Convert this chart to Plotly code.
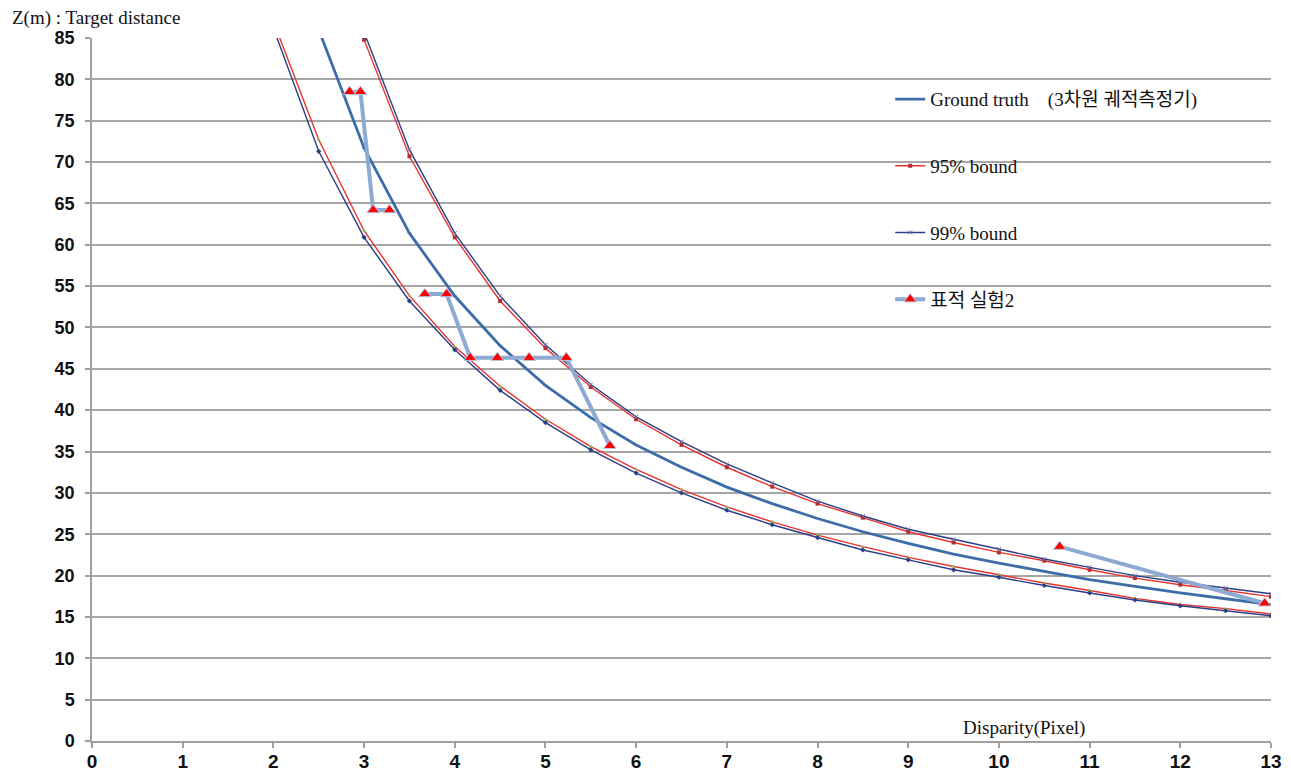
import plotly.graph_objects as go

# ---------------- data ----------------
d_gt = [2.5, 3, 3.5, 4, 4.5, 5, 5.5, 6, 6.5, 7, 7.5, 8, 8.5, 9, 9.5, 10, 10.5, 11, 11.5, 12, 12.5, 13]
z_gt = [86.0, 71.7, 61.4, 53.8, 47.8, 43.0, 39.1, 35.8, 33.1, 30.7, 28.7, 26.9, 25.3, 23.9, 22.6, 21.5,
        20.5, 19.5, 18.7, 17.9, 17.2, 16.5]

d_up = [2.5, 3, 3.5, 4, 4.5, 5, 5.5, 6, 6.5, 7, 7.5, 8, 8.5, 9, 9.5, 10, 10.5, 11, 11.5, 12, 12.5, 13]
z_up95 = [104.0, 84.8, 70.7, 60.9, 53.2, 47.5, 42.8, 38.9, 35.8, 33.1, 30.75, 28.7, 27.0, 25.3, 24.0, 22.8,
          21.8, 20.7, 19.7, 18.9, 18.2, 17.45]
z_up99 = [106.0, 85.7, 71.5, 61.4, 53.8, 47.9, 43.1, 39.2, 36.2, 33.5, 31.2, 29.0, 27.2, 25.6, 24.4, 23.2,
          22.0, 21.0, 20.0, 19.2, 18.5, 17.8]

d_lo = [2, 2.5, 3, 3.5, 4, 4.5, 5, 5.5, 6, 6.5, 7, 7.5, 8, 8.5, 9, 9.5, 10, 10.5, 11, 11.5, 12, 12.5, 13]
z_lo95 = [87.0, 72.7, 61.7, 53.85, 47.7, 42.9, 38.9, 35.6, 32.85, 30.4, 28.3, 26.5, 24.9, 23.5, 22.2, 21.1,
          20.1, 19.1, 18.2, 17.25, 16.5, 16.0, 15.35]
z_lo99 = [86.2, 71.3, 60.9, 53.2, 47.3, 42.4, 38.5, 35.2, 32.4, 30.0, 27.9, 26.15, 24.6, 23.1, 21.9, 20.7,
          19.8, 18.8, 17.9, 17.05, 16.35, 15.75, 15.15]

d_exp = [2.84, 2.96, 3.10, 3.28, None, 3.67, 3.91, 4.17, 4.47, 4.82, 5.23, 5.71, None, 10.67, 12.93]
z_exp = [78.5, 78.5, 64.2, 64.2, None, 54.05, 54.05, 46.35, 46.35, 46.35, 46.35, 35.7, None, 23.5, 16.65]

x_ticks = list(range(0, 14))
y_ticks = list(range(0, 86, 5))

names = ["Ground truth\u00a0\u00a0\u00a0\u00a0(3차원 궤적측정기)", "95% bound", "99% bound", "표적 실험2"]

# ---------------- styles ----------------
C_GT = "#3D6DA8"
C_95 = "#E8322D"
C_99 = "#283F86"
C_EXP = "#8EA9D2"

fig = go.Figure()

fig.add_trace(go.Scatter(x=d_gt, y=z_gt, mode="lines+markers", name=names[0], legendgroup="g1",
                         line=dict(color=C_GT, width=2.8),
                         marker=dict(size=3, color=C_GT, symbol="line-ew-open", line=dict(width=1, color=C_GT))))

fig.add_trace(go.Scatter(x=d_up, y=z_up95, mode="lines+markers", name=names[1], legendgroup="g2",
                         line=dict(color=C_95, width=1.4),
                         marker=dict(size=4, color="#B03030", symbol="square")))
fig.add_trace(go.Scatter(x=d_lo, y=z_lo95, mode="lines+markers", name=names[1], legendgroup="g2",
                         showlegend=False,
                         line=dict(color=C_95, width=1.4),
                         marker=dict(size=4, color="#9BBB59", symbol="triangle-up")))

fig.add_trace(go.Scatter(x=d_up, y=z_up99, mode="lines+markers", name=names[2], legendgroup="g3",
                         line=dict(color=C_99, width=1.4),
                         marker=dict(size=4, color="#8064A2", symbol="x-thin-open", line=dict(width=1, color="#8064A2"))))
fig.add_trace(go.Scatter(x=d_lo, y=z_lo99, mode="lines+markers", name=names[2], legendgroup="g3",
                         showlegend=False,
                         line=dict(color=C_99, width=1.4),
                         marker=dict(size=4, color=C_99, symbol="diamond")))

fig.add_trace(go.Scatter(x=d_exp, y=z_exp, mode="lines+markers", name=names[3], legendgroup="g4",
                         connectgaps=False,
                         line=dict(color=C_EXP, width=4),
                         marker=dict(size=11, color="#FF0000", symbol="triangle-up",
                                     line=dict(width=1, color="#B8C8E4"))))

# page body has an 8px margin, so the figure is sized to fit inside the window
W, H = 1283, 768
ML, MR, MT, MB = 84, 20, 30, 35
PW, PH = W - ML - MR, H - MT - MB

fig.update_layout(
    width=W, height=H,
    paper_bgcolor="white", plot_bgcolor="white",
    margin=dict(l=ML, r=MR, t=MT, b=MB, autoexpand=False),
    showlegend=True,
    legend=dict(x=0.677, y=0.940, xanchor="left", yanchor="top",
                font=dict(family="Liberation Serif, Noto Sans CJK KR, serif", size=19, color="#111111"),
                bgcolor="rgba(0,0,0,0)", tracegroupgap=39, itemwidth=30),
    xaxis=dict(range=[0, 13], tickvals=x_ticks, ticktext=[str(v) for v in x_ticks], automargin=False,
               showgrid=False, zeroline=False, showline=True, linecolor="#A0A0A0", linewidth=1.5,
               ticks="outside", ticklen=5, tickcolor="#A0A0A0", tickwidth=1.5, ticklabelstandoff=-3,
               tickfont=dict(family="Liberation Sans", size=19, color="#111111", weight="bold")),
    yaxis=dict(range=[0, 85], tickvals=y_ticks, ticktext=[str(v) for v in y_ticks], automargin=False,
               showgrid=True, gridcolor="#A6A6A6", gridwidth=2, zeroline=False,
               showline=True, linecolor="#A0A0A0", linewidth=1.5,
               ticks="outside", ticklen=5, tickcolor="#A0A0A0", tickwidth=1.5, ticklabelstandoff=7,
               tickfont=dict(family="Liberation Sans", size=18, color="#111111", weight="bold")),
    annotations=[
        dict(text="Z(m) : Target distance", x=(2 - ML) / PW, y=1 + (MT - 10) / PH,
             xref="paper", yref="paper", xanchor="left", yanchor="middle",
             showarrow=False, font=dict(family="Liberation Serif", size=19, color="#111111")),
        dict(text="Disparity(Pixel)", x=10.28, y=0, xref="x", yref="y", xanchor="center", yanchor="bottom",
             yshift=0, showarrow=False, font=dict(family="Liberation Serif", size=19, color="#111111")),
    ],
)

fig.write_html("out.html")
